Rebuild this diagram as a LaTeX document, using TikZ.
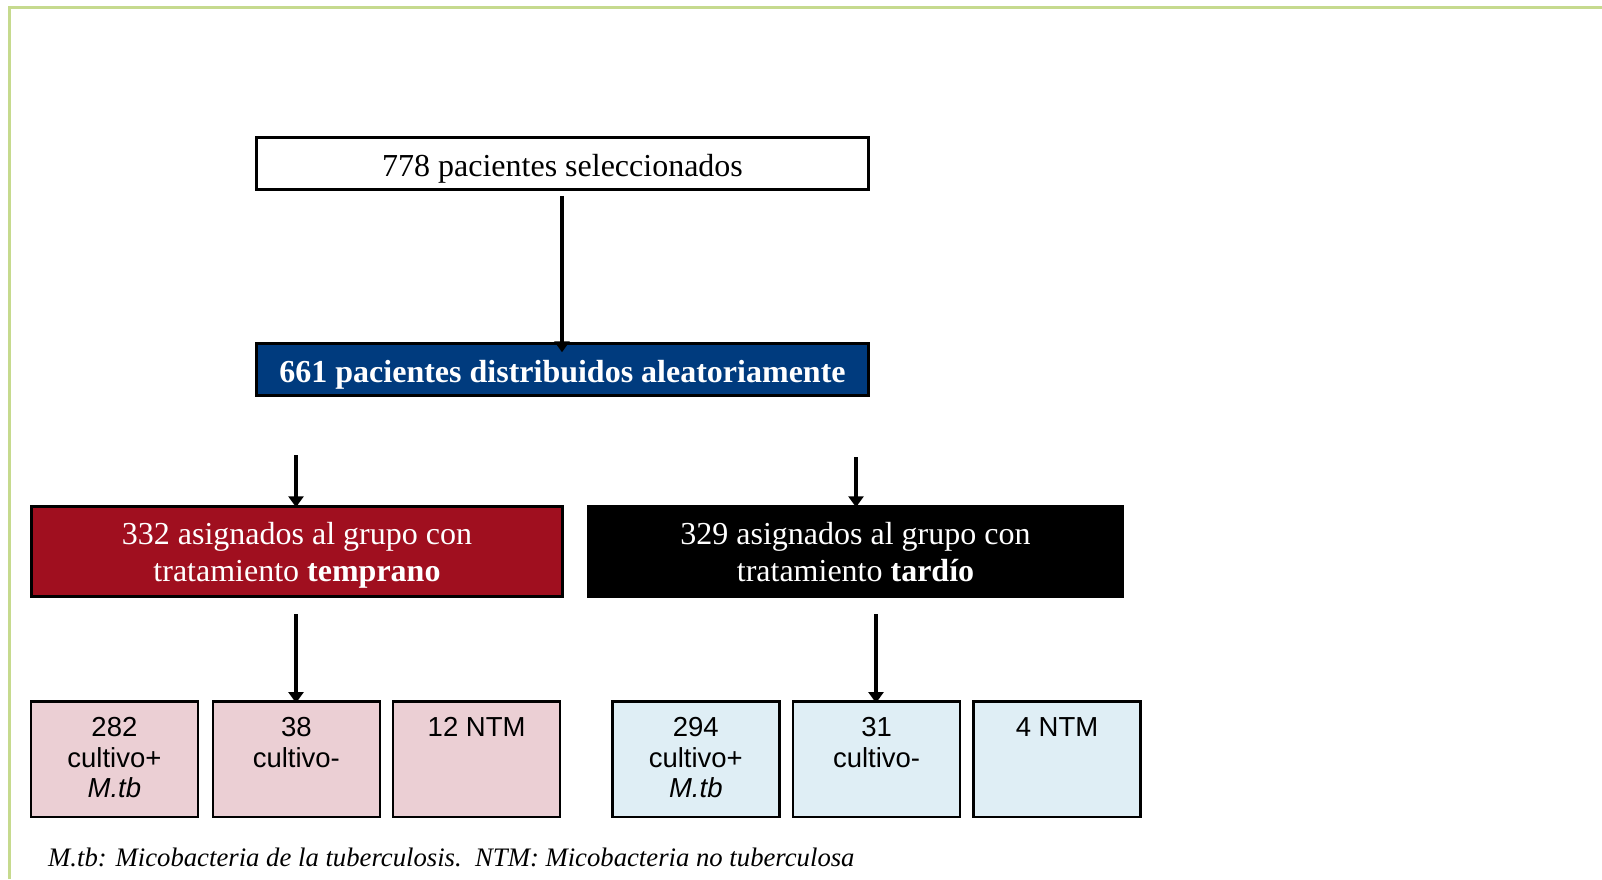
\documentclass[tikz,border=0pt]{standalone}
\usepackage{fontspec}
\setmainfont{Liberation Serif}
\setsansfont{Liberation Sans}
\usetikzlibrary{arrows.meta}
\definecolor{framegreen}{HTML}{C6DA8E}
\definecolor{navy}{HTML}{003B7E}
\definecolor{darkred}{HTML}{A00F1F}
\definecolor{pinkfill}{HTML}{EBCFD4}
\definecolor{bluefill}{HTML}{DFEEF5}
\begin{document}
\begin{tikzpicture}[x=1pt,y=-1pt,
  mainbox/.style={draw=black, line width=2.5pt, rectangle, inner sep=0pt,
    align=center, text depth=0pt, font=\fontsize{32}{36.8}\selectfont},
  stagebox/.style={mainbox, text height=26pt, minimum width=612pt, minimum height=52pt},
  groupbox/.style={mainbox, minimum height=90pt},
  resbox/.style={draw=black, line width=2.5pt, rectangle, inner sep=0pt,
    minimum width=167pt, minimum height=115.5pt},
  restext/.style={inner sep=0pt, align=center, anchor=north,
    font=\sffamily\fontsize{27.5}{30.7}\selectfont},
  arr/.style={line width=3.2pt, -{Triangle[width=15pt,length=11pt]}}
]
\useasboundingbox (0,0) rectangle (1602,879);

% page frame
\draw[framegreen, line width=3pt] (9.5,879) -- (9.5,7.5) -- (1602,7.5);

% main stages
\node[stagebox] (sel) at (562.5,163.5)
  {778 pacientes seleccionados};
\node[stagebox, fill=navy, text=white] (rand) at (562.5,369.5)
  {\bfseries 661 pacientes distribuidos aleatoriamente};

% treatment groups
\node[groupbox, fill=darkred, text=white, minimum width=531pt] (early) at (297,551.5)
  {332 asignados al grupo con\\tratamiento \textbf{temprano}};
\node[groupbox, fill=black, text=white, minimum width=534pt] (late) at (855.5,551.5)
  {329 asignados al grupo con\\tratamiento \textbf{tardío}};

% culture results
\node[resbox, fill=pinkfill] (e1) at (114.4,759) {};
\node[resbox, fill=pinkfill] (e2) at (296.3,759) {};
\node[resbox, fill=pinkfill] (e3) at (476.6,759) {};
\node[resbox, fill=bluefill] (l1) at (695.8,759) {};
\node[resbox, fill=bluefill] (l2) at (876.6,759) {};
\node[resbox, fill=bluefill] (l3) at (1057,759) {};

\node[restext] (e1t) at (114.4,717) {282\\cultivo+\\\textit{M.tb}};
\node[restext] (e2t) at (296.3,717) {38\\cultivo-};
\node[restext] (e3t) at (476.6,717) {12 NTM};
\node[restext] (l1t) at (695.8,717) {294\\cultivo+\\\textit{M.tb}};
\node[restext] (l2t) at (876.6,717) {31\\cultivo-};
\node[restext] (l3t) at (1057,717) {4 NTM};

% connectors
\coordinate (ea) at (296,455);
\coordinate (la) at (856,457);
\coordinate (eb) at (296,614);
\coordinate (lb) at (876,614);
\draw[arr, shorten <=5pt, shorten >=-10pt] (sel.south -| 562,0) -- (rand.north -| 562,0);
\draw[arr, shorten >=-2pt] (ea) -- (ea |- early.north);
\draw[arr, shorten >=-2pt] (la) -- (la |- late.north);
\draw[arr, shorten >=-3pt] (eb) -- (eb |- e2.north);
\draw[arr, shorten >=-3pt] (lb) -- (lb |- l2.north);

% footnote
\node[inner sep=0pt, anchor=base west, font=\itshape\fontsize{26.7}{30}\selectfont] (note) at (48,866)
  {M.tb: Micobacteria de la tuberculosis.\ \ NTM: Micobacteria no tuberculosa};
\end{tikzpicture}
\end{document}
